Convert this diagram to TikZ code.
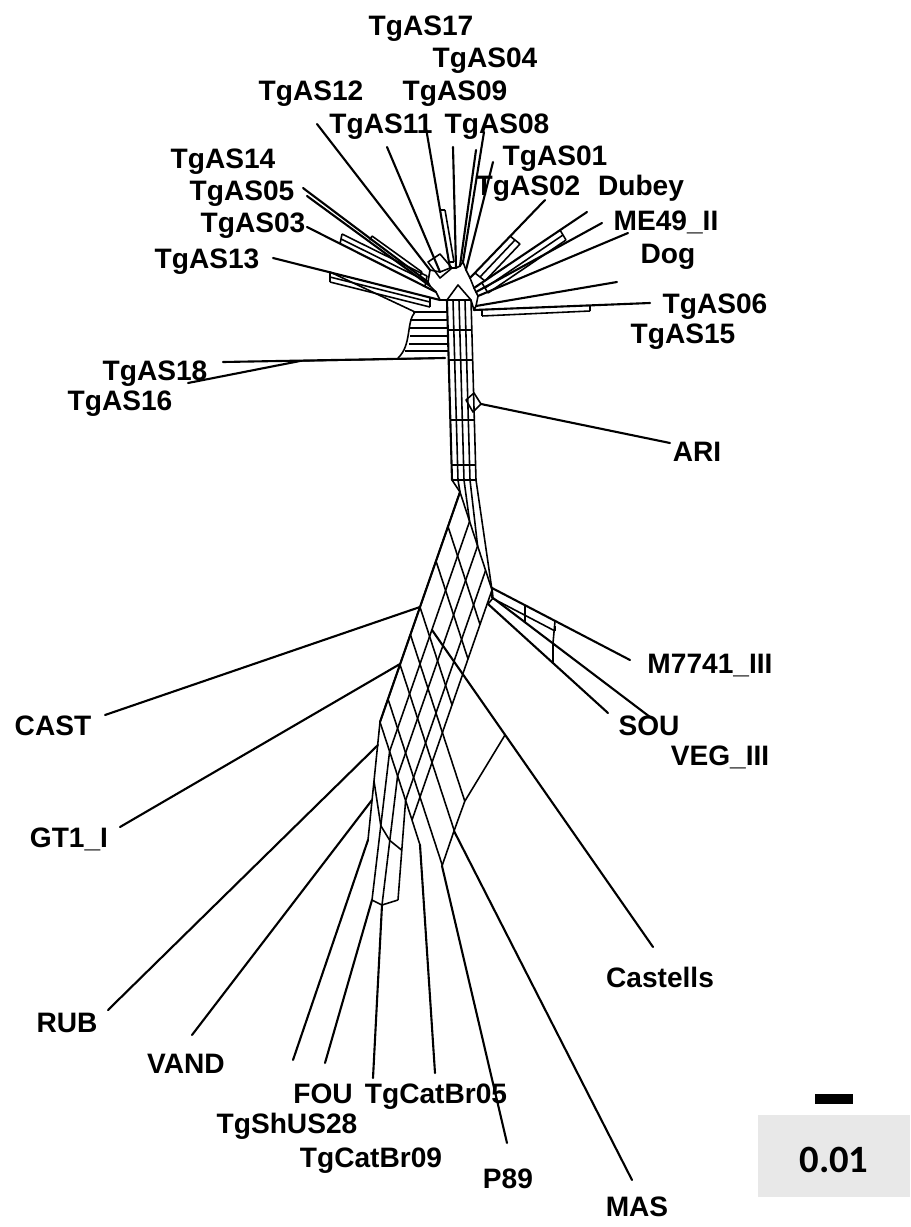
\documentclass[tikz,border=0pt]{standalone}
\usepackage{fontspec}
\setmainfont{Liberation Sans}
\newfontfamily\scalefont{Carlito}
\usetikzlibrary{calc}

\begin{document}
\begin{tikzpicture}[
    x=0.02cm, y=-0.02cm,
    taxon/.style={font=\fontsize{16}{18}\selectfont\bfseries, inner sep=0pt, anchor=base},
    edge/.style={line width=1.2pt, line cap=round},
    split/.style={line width=0.9pt, line join=round}
]
    \useasboundingbox (0,0) rectangle (910,1227);

    % Taxon labels
    \node[taxon] (tgas17) at (421,35) {TgAS17};
    \node[taxon] (tgas04) at (485,67) {TgAS04};
    \node[taxon] (tgas12) at (311,100) {TgAS12};
    \node[taxon] (tgas09) at (455,100) {TgAS09};
    \node[taxon] (tgas11) at (381,133) {TgAS11};
    \node[taxon] (tgas08) at (497,133) {TgAS08};
    \node[taxon] (tgas14) at (223,168) {TgAS14};
    \node[taxon] (tgas01) at (555,165) {TgAS01};
    \node[taxon] (tgas05) at (242,200) {TgAS05};
    \node[taxon] (tgas02) at (528,195) {TgAS02};
    \node[taxon] (dubey) at (641,195) {Dubey};
    \node[taxon] (tgas03) at (253,232) {TgAS03};
    \node[taxon] (me49) at (666,230) {ME49\_II};
    \node[taxon] (tgas13) at (207,268) {TgAS13};
    \node[taxon] (dog) at (668,263) {Dog};
    \node[taxon] (tgas06) at (715,313) {TgAS06};
    \node[taxon] (tgas15) at (683,343) {TgAS15};
    \node[taxon] (tgas18) at (155,380) {TgAS18};
    \node[taxon] (tgas16) at (120,410) {TgAS16};
    \node[taxon] (ari) at (697,461) {ARI};
    \node[taxon] (m7741) at (710,673) {M7741\_III};
    \node[taxon] (cast) at (53,735) {CAST};
    \node[taxon] (sou) at (649,735) {SOU};
    \node[taxon] (veg) at (720,765) {VEG\_III};
    \node[taxon] (gt1) at (69,847) {GT1\_I};
    \node[taxon] (castells) at (660,987) {Castells};
    \node[taxon] (rub) at (67,1032) {RUB};
    \node[taxon] (vand) at (186,1073) {VAND};
    \node[taxon] (fou) at (323,1103) {FOU};
    \node[taxon] (tgcatbr05) at (436,1103) {TgCatBr05};
    \node[taxon] (tgshus28) at (287,1133) {TgShUS28};
    \node[taxon] (tgcatbr09) at (371,1167) {TgCatBr09};
    \node[taxon] (p89) at (508,1188) {P89};
    \node[taxon] (mas) at (637,1216) {MAS};

    % Pendant edges: name / inner point / free end
    \foreach \n/\ix/\iy/\ex/\ey in {
        tgas12/430/270/317/124, tgas11/440/272/387/147, tgas17/450/268/426/128,
        tgas09/456/268/453/147, tgas04/460/266/476/150, tgas08/463/262/484/132,
        tgas01/466/270/493/162, tgas02/470/278/545/200, dubey/474/288/587/212,
        me49/476/292/602/223, dog/478/296/628/233, tgas15/476/306/617/282,
        tgas06/474/310/650/303, tgas14/428/282/303/188, tgas05/430/286/307/196,
        tgas03/436/292/307/227, tgas13/440/300/273/258, tgas18/445/358/223/362,
        tgas16/300/361/188/383, ari/481/404/670/443,
        cast/420/607/105/715, gt1/400/664/120/827, m7741/492/588/630/660,
        sou/488/604/608/713, veg/493/598/650/717, castells/432/630/653/947,
        mas/454/831/632/1180, p89/442/866/507/1143, rub/378/745/108/1010,
        vand/372/800/192/1035, tgshus28/368/840/293/1060, fou/372/900/325/1063,
        tgcatbr09/382/905/373/1078, tgcatbr05/420/845/435/1073}{
        \coordinate (i-\n) at (\ix,\iy);
        \coordinate (e-\n) at (\ex,\ey);
        \draw[edge] (i-\n) -- (e-\n);
    }

    % Central hub
    \draw[split] (i-tgas14) -- (i-tgas12) -- (i-tgas11) -- (i-tgas17) -- (i-tgas09)
        -- (i-tgas04) -- (i-tgas08) -- (i-tgas01) -- (i-tgas02) -- (i-dubey)
        -- (i-me49) -- (i-dog) -- (i-tgas15) -- (i-tgas06) -- (471,300)
        -- (447,300) -- (i-tgas13) -- (i-tgas03) -- (i-tgas05) -- cycle;
    \draw[split] (428,262) -- (440,254) -- (452,268) -- (440,278) -- cycle;
    \draw[split] (447,300) -- (458,285) -- (471,300);

    % Parallel split bands: start / end / offset / count
    \foreach \ax/\ay/\bx/\by/\dx/\dy/\k in {
        425/286/340/244/1/-5/2, 430/297/330/272/0/5/2, 482/283/560/230/3/5/2,
        475/273/510/236/5/4/2, 482/310/590/305/0/6/1, 449/262/440/210/5/0/1,
        447/300/452/480/6/0/4, 492/593/555/626/0/5/1, 420/276/370/240/2/-4/1}{
        \foreach \j in {1,...,\k}
            \draw[split] (\ax+\j*\dx,\ay+\j*\dy) -- (\bx+\j*\dx,\by+\j*\dy);
        \draw[split] (\ax,\ay) -- (\ax+\k*\dx,\ay+\k*\dy);
        \draw[split] (\bx,\by) -- (\bx+\k*\dx,\by+\k*\dy);
    }
    % Trunk
    \draw[edge] (447,300) -- (452,480);
    \foreach \y in {330,360,420,465}
        \draw[split] (447+5*\y/180-8.3,\y) -- (471+5*\y/180-8.3,\y);

    % Box towards TgAS18 and TgAS16
    \draw[split] (415,312) .. controls (406,322) and (412,345) .. (398,358);
    \foreach \xl/\y in {413/312, 410/320, 410/328, 410/336, 409/344, 405/351}
        \draw[split] (\xl,\y) -- (448,\y);
    \draw[split] (i-tgas18) -- (i-tgas16);
    \draw[split] (330,272) -- (415,312);

    % Diamond at ARI
    \draw[split] (466,400) -- (474,393) -- (i-ari) -- (473,412) -- cycle;

    % Lower network
    \coordinate (T) at (460,492);
    \foreach \x/\s in {452/0, 458/0, 464/0.3, 470/0.55, 476/1}
        \draw[split] (\x,480) -- ($(T)+\s*(32,98)$);
    \foreach \s in {0,0.3,0.55,0.8,1}
        \draw[split] ($(T)+\s*(32,98)$) -- ++(-80,230);
    \draw[edge] (T) -- ++(-80,230);
    \foreach \t in {0,0.15,0.3,0.5,1}
        \draw[split] ($(T)+\t*(-80,230)$) -- ++(32,98);
    \foreach \t in {0.62,0.75,0.9}
        \draw[split] ($(T)+\t*(-80,230)$) -- ++(54.4,166.6);
    \foreach \s/\ex/\ey in {0/368/840, 0.3/372/900, 0.55/382/905, 0.8/398/900, 1/420/845}
        \draw[split] ($(T)+(-80,230)+\s*(32,98)$) -- (\ex,\ey);
    \draw[split] (374,781) -- (380.8,825.7) -- (389.8,840.5) -- (401.8,850.2);
    \draw[split] (i-fou) -- (i-tgcatbr09) -- (398,900);
    \draw[split] (i-m7741) -- (i-veg) -- (i-sou);
    \draw[split] (525,605) -- (525,622);
    \draw[split] (555,621) -- (553,643) -- (553,663);
    \draw[split] (505,735) -- (464.8,801.2) -- (i-mas) -- (i-p89);

    % Scale bar
    \fill (815,1094) rectangle (853,1104);
    \fill[gray!18] (758,1115) rectangle (910,1197);
    \node[font=\scalefont\fontsize{22}{24}\selectfont\bfseries, anchor=base] (scale) at (834,1172) {0.01};
\end{tikzpicture}
\end{document}
